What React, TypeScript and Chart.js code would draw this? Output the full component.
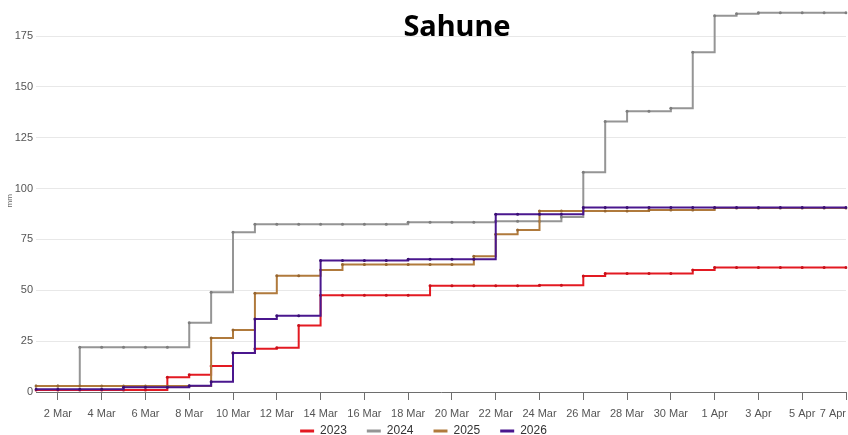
import React, { useEffect, useRef } from 'react';
import { Chart, registerables } from 'chart.js';

Chart.register(...registerables);

const categories = [
  '1 Mar', '2 Mar', '3 Mar', '4 Mar', '5 Mar', '6 Mar', '7 Mar', '8 Mar', '9 Mar', '10 Mar',
  '11 Mar', '12 Mar', '13 Mar', '14 Mar', '15 Mar', '16 Mar', '17 Mar', '18 Mar', '19 Mar', '20 Mar',
  '21 Mar', '22 Mar', '23 Mar', '24 Mar', '25 Mar', '26 Mar', '27 Mar', '28 Mar', '29 Mar', '30 Mar',
  '31 Mar', '1 Apr', '2 Apr', '3 Apr', '4 Apr', '5 Apr', '6 Apr', '7 Apr',
];

const series2023 = [
  1, 1, 1, 1, 1, 1, 7.3, 8.5, 12.8, 19.2,
  21.3, 21.8, 32.7, 47.6, 47.6, 47.6, 47.6, 47.6, 52.2, 52.2,
  52.2, 52.2, 52.2, 52.5, 52.5, 57, 58.3, 58.3, 58.3, 58.3,
  60, 61.2, 61.2, 61.2, 61.2, 61.2, 61.2, 61.2,
];

const series2024 = [
  3, 3, 22, 22, 22, 22, 22, 34, 49, 78.5,
  82.5, 82.5, 82.5, 82.5, 82.5, 82.5, 82.5, 83.5, 83.5, 83.5,
  83.5, 84, 84, 84, 86, 108, 133, 138, 138, 139.5,
  167, 185, 186, 186.5, 186.5, 186.5, 186.5, 186.5,
];

const series2025 = [
  3, 3, 3, 3, 3, 3, 3, 3, 26.5, 30.5,
  48.5, 57.2, 57.2, 60, 62.7, 62.7, 62.7, 62.7, 62.7, 62.7,
  66.8, 77.5, 79.6, 89, 89, 89, 89, 89, 89.5, 89.5,
  89.5, 90.5, 90.5, 90.5, 90.5, 90.5, 90.5, 90.5,
];

const series2026 = [
  1.3, 1.3, 1.3, 1.3, 2.3, 2.3, 2.3, 3.1, 5, 19.2,
  35.9, 37.5, 37.5, 64.6, 64.6, 64.6, 64.6, 65.3, 65.3, 65.3,
  65.3, 87.4, 87.4, 87.4, 87.4, 90.7, 90.7, 90.7, 90.7, 90.7,
  90.7, 90.7, 90.7, 90.7, 90.7, 90.7, 90.7, 90.7,
];

const seriesNames = ['2023', '2024', '2025', '2026'];
const seriesColors = ['#e31a22', '#959595', '#b07a3c', '#4a178e'];
const pointColors = ['#c8101a', '#7e7e7e', '#96652f', '#3a0f75'];
const seriesOrder = [4, 3, 2, 1];
const yTicks = [0, 25, 50, 75, 100, 125, 150, 175];

const legendShift = {
  id: 'legendShift',
  afterLayout(chart: any) {
    const lg = chart.legend;
    if (!lg) return;
    lg.top = 405;
    lg.bottom = 435;
    lg.height = 30;
  },
};

export default function App() {
  const canvasRef = useRef<HTMLCanvasElement | null>(null);

  useEffect(() => {
    if (!canvasRef.current) return;
    Chart.defaults.font.family = "'Liberation Sans', Arial, sans-serif";
    const allSeries = [series2023, series2024, series2025, series2026];
    const chart = new Chart(canvasRef.current, {
      type: 'line',
      data: {
        labels: categories,
        datasets: allSeries.map((values, i) => ({
          label: seriesNames[i],
          data: values,
          borderColor: seriesColors[i],
          backgroundColor: seriesColors[i],
          borderWidth: 2,
          stepped: 'before' as const,
          pointStyle: 'circle' as const,
          pointRadius: 1.5,
          pointBorderWidth: 0,
          pointBackgroundColor: pointColors[i],
          pointHoverRadius: 1.5,
          order: seriesOrder[i],
          fill: false,
        })),
      },
      plugins: [legendShift],
      options: {
        responsive: false,
        animation: false,
        layout: { padding: { left: 1, right: 2, top: 6, bottom: 0 } },
        plugins: {
          title: { display: false },
          tooltip: { enabled: false },
          legend: {
            display: true,
            position: 'bottom',
            maxHeight: 15,
            labels: {
              usePointStyle: true,
              pointStyle: 'line',
              pointStyleWidth: 14,
              padding: 20,
              color: '#333',
              font: { size: 12 },
              generateLabels: (c: any) =>
                c.data.datasets.map((ds: any, i: number) => ({
                  text: ds.label,
                  strokeStyle: ds.borderColor,
                  fillStyle: ds.borderColor,
                  lineWidth: 3,
                  pointStyle: 'line',
                  hidden: false,
                  datasetIndex: i,
                  fontColor: '#333',
                })),
            },
          },
        },
        scales: {
          x: {
            type: 'category',
            offset: false,
            afterFit: (scale: any) => {
              scale.height = 28;
              scale.paddingLeft = 0;
              scale.paddingRight = 0;
            },
            border: { display: true, color: '#6e6e6e', width: 1 },
            grid: {
              drawOnChartArea: false,
              drawTicks: true,
              tickLength: 8,
              color: (ctx: any) => (ctx.index === 0 ? 'rgba(0,0,0,0)' : '#6e6e6e'),
            },
            ticks: {
              autoSkip: false,
              maxRotation: 0,
              minRotation: 0,
              align: 'inner',
              padding: 7,
              color: '#555',
              font: { size: 11 },
              callback: (_v: any, i: number) =>
                i === 0 ? '' : i % 2 === 1 ? categories[i] : null,
            },
          },
          y: {
            min: 0,
            max: 188,
            afterFit: (scale: any) => {
              scale.width = 35;
            },
            border: { display: false },
            grid: { color: '#e8e8e8', drawTicks: false },
            title: {
              display: true,
              text: 'mm',
              color: '#666',
              font: { size: 8 },
              padding: { top: 4, bottom: 0 },
            },
            afterBuildTicks: (scale: any) => {
              scale.ticks = yTicks.map((v) => ({ value: v }));
            },
            ticks: {
              padding: 3,
              color: '#555',
              font: { size: 11 },
            },
          },
        },
      },
    });
    return () => chart.destroy();
  }, []);

  return (
    <div style={{ position: 'fixed', left: 0, top: 0, width: 848, height: 435, background: '#fff' }}>
      <canvas ref={canvasRef} width={848} height={435} style={{ display: 'block' }} />
      <div
        style={{
          position: 'absolute',
          left: 457,
          top: 10,
          transform: 'translateX(-50%)',
          fontFamily: "'Noto Sans', sans-serif",
          fontWeight: 700,
          fontSize: 29,
          lineHeight: 1,
          color: '#000',
          whiteSpace: 'nowrap',
          pointerEvents: 'none',
        }}
      >
        Sahune
      </div>
    </div>
  );
}
